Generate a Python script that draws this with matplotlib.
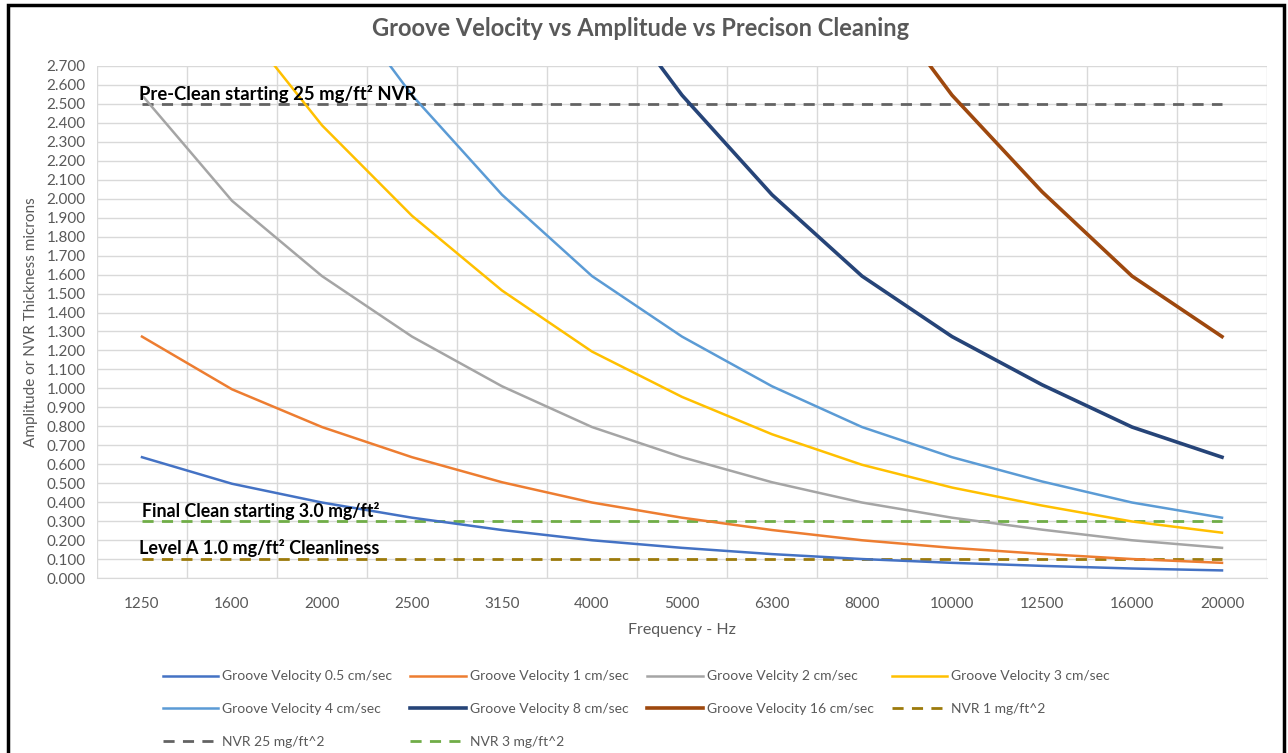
import matplotlib
matplotlib.use("Agg")
import matplotlib.pyplot as plt
from matplotlib.patches import Rectangle

plt.rcParams['font.family'] = ['Lato', 'DejaVu Sans']

# frequency bands (Hz)
freqs = ["1250", "1600", "2000", "2500", "3150", "4000", "5000",
         "6300", "8000", "10000", "12500", "16000", "20000"]

# amplitude (microns)
gv_05 = [0.637, 0.497, 0.398, 0.318, 0.253, 0.199, 0.159, 0.126, 0.100, 0.080, 0.064, 0.050, 0.040]
gv_1 = [1.273, 0.995, 0.796, 0.637, 0.505, 0.398, 0.318, 0.253, 0.199, 0.159, 0.127, 0.100, 0.080]
gv_2 = [2.546, 1.989, 1.592, 1.273, 1.011, 0.796, 0.637, 0.505, 0.398, 0.318, 0.255, 0.199, 0.159]
gv_3 = [3.820, 2.984, 2.387, 1.910, 1.516, 1.194, 0.955, 0.758, 0.597, 0.477, 0.382, 0.298, 0.239]
gv_4 = [5.093, 3.979, 3.183, 2.546, 2.021, 1.592, 1.273, 1.011, 0.796, 0.637, 0.509, 0.398, 0.318]
gv_8 = [10.19, 7.958, 6.366, 5.093, 4.042, 3.183, 2.546, 2.021, 1.592, 1.273, 1.019, 0.796, 0.637]
gv_16 = [20.37, 15.92, 12.73, 10.19, 8.084, 6.366, 5.093, 4.042, 3.183, 2.546, 2.037, 1.592, 1.273]

nvr_1 = 0.1
nvr_25 = 2.5
nvr_3 = 0.3

fig = plt.figure(figsize=(12.88, 7.53), dpi=100)
ax = fig.add_axes([0.0753, 0.2324, 0.9084, 0.68])

series = [
    (gv_05, "Groove Velocity 0.5 cm/sec", "#4472C4", 1.8),
    (gv_1, "Groove Velocity 1 cm/sec", "#ED7D31", 1.8),
    (gv_2, "Groove Velcity 2 cm/sec", "#A5A5A5", 1.8),
    (gv_3, "Groove Velocity 3 cm/sec", "#FFC000", 1.8),
    (gv_4, "Groove Velocity 4 cm/sec", "#5B9BD5", 1.8),
    (gv_8, "Groove Velocity 8 cm/sec", "#264478", 2.6),
    (gv_16, "Groove Velocity 16 cm/sec", "#9E480E", 2.6),
]
handles = []
for vals, name, col, lw in series:
    h, = ax.plot(freqs, vals, color=col, lw=lw, label=name, zorder=3)
    handles.append(h)

nvr = [
    (nvr_1, "NVR 1 mg/ft^2", "#9C7A0B"),
    (nvr_25, "NVR 25 mg/ft^2", "#636363"),
    (nvr_3, "NVR 3 mg/ft^2", "#70AD47"),
]
for level, name, col in nvr:
    h, = ax.plot(freqs, [level] * len(freqs), color=col, lw=2.0,
                 dashes=(4, 3), label=name, zorder=2)
    handles.append(h)

ax.set_xlim(-0.5, len(freqs) - 0.5)
ax.set_ylim(0, 2.7)
ax.set_yticks([i / 10 for i in range(28)])
ax.yaxis.set_major_formatter(matplotlib.ticker.FormatStrFormatter('%.3f'))
ax.set_xticks(range(len(freqs)), freqs)
ax.set_xticks([i - 0.5 for i in range(len(freqs) + 1)], minor=True)

ax.grid(True, which='major', axis='y', color='#D9D9D9', lw=1)
ax.grid(True, which='minor', axis='x', color='#D9D9D9', lw=1)
ax.tick_params(which='both', length=0, colors='#595959', labelsize=11)
ax.tick_params(axis='x', pad=14)
ax.tick_params(axis='y', pad=8)
for s in ['top', 'right', 'left']:
    ax.spines[s].set_visible(False)
ax.spines['bottom'].set_color('#D9D9D9')

ax.set_ylabel("Amplitude or NVR Thickness microns", color='#595959', fontsize=11, labelpad=6)
ax.set_xlabel("Frequency - Hz", color='#595959', fontsize=11.5, labelpad=8)
fig.suptitle("Groove Velocity vs Amplitude vs Precison Cleaning", x=0.497, y=0.978,
             color='#595959', fontsize=17, fontweight='bold')

ax.text(-0.03, 2.505, "Pre-Clean starting 25 mg/ft² NVR", fontsize=13.3,
        fontweight='bold', color='black', va='bottom', zorder=5)
ax.text(0.0, 0.305, "Final Clean starting 3.0 mg/ft²", fontsize=12.8,
        fontweight='bold', color='black', va='bottom', zorder=5)
ax.text(-0.03, 0.11, "Level A 1.0 mg/ft² Cleanliness", fontsize=13,
        fontweight='bold', color='black', va='bottom', zorder=5)

# legend laid out row-wise like the original
order = [0, 4, 8, 1, 5, 9, 2, 6, 3, 7]
leg = fig.legend([handles[i] for i in order], [handles[i].get_label() for i in order],
                 ncol=4, loc='upper left', bbox_to_anchor=(0.122, 0.117),
                 frameon=False, fontsize=10, handlelength=4, columnspacing=1.3,
                 handletextpad=0.3, labelspacing=1.5, borderaxespad=0)
for t in leg.get_texts():
    t.set_color('#595959')

fig.patches.append(Rectangle((0.006, -0.02), 0.991, 1.014, transform=fig.transFigure,
                             fill=False, edgecolor='black', lw=2.5))

fig.savefig("out.png", dpi=100)
